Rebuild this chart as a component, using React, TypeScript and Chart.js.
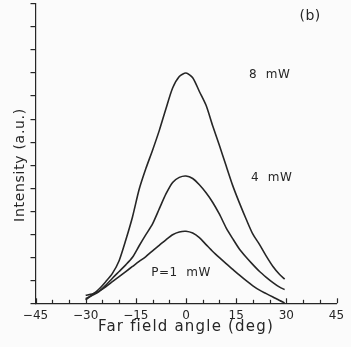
import React, { useEffect, useRef } from 'react';
import { Chart, registerables } from 'chart.js';

Chart.register(...registerables);

// Far-field angle (deg) at which each intensity was read
const angles = [-30, -28, -26, -24, -22, -20, -18, -16, -14, -12, -10, -8, -6, -4, -2, 0, 2, 4, 6, 8, 10, 12, 14, 16, 18, 20, 22, 24, 26, 28, 29.5];

// Intensity (a.u.) for each power
const p8mW = [0.15, 0.38, 0.62, 0.94, 1.3, 1.85, 2.75, 3.75, 4.95, 5.85, 6.65, 7.5, 8.45, 9.35, 9.85, 10.0, 9.8, 9.2, 8.6, 7.7, 6.85, 5.97, 5.1, 4.35, 3.65, 3.0, 2.55, 2.05, 1.6, 1.25, 1.05];
const p4mW = [0.2, 0.35, 0.51, 0.78, 1.09, 1.38, 1.67, 2.0, 2.5, 2.98, 3.45, 4.1, 4.75, 5.25, 5.47, 5.53, 5.42, 5.15, 4.8, 4.38, 3.87, 3.28, 2.8, 2.35, 2.0, 1.68, 1.38, 1.13, 0.9, 0.7, 0.6];
const p1mW = [0.35, 0.4, 0.53, 0.72, 0.94, 1.16, 1.38, 1.6, 1.82, 2.03, 2.28, 2.52, 2.76, 2.98, 3.1, 3.13, 3.05, 2.85, 2.55, 2.25, 1.98, 1.72, 1.47, 1.22, 0.98, 0.76, 0.57, 0.42, 0.27, 0.12, 0.02];

// Axis ticks
const xMin = -45;
const xMax = 45;
const xMinorStep = 5;
const xLabelStep = 15;
const yMin = 0;
const yMax = 13;
const yStep = 1;

// Text labels
const xTitle = 'Far field angle (deg)';
const yTitle = 'Intensity (a.u.)';
const notes = [
  { text: '(b)', x: 37.1, y: 12.45, size: 14 },
  { text: '8  mW', x: 25.0, y: 9.93, size: 12 },
  { text: '4  mW', x: 25.6, y: 5.45, size: 12 },
  { text: 'P=1  mW', x: -1.5, y: 1.32, size: 12 },
];

const INK = '#262626';
const FONT = '"DejaVu Sans", "Liberation Sans", sans-serif';

const toPoints = (vals: number[]) => vals.map((v, i) => ({ x: angles[i], y: v }));

const decorPlugin = {
  id: 'decor',
  afterDraw(chart: any) {
    const { ctx, scales } = chart;
    const xs = scales.x;
    const ys = scales.y;
    const area = chart.chartArea;
    ctx.save();
    // inward tick marks on x axis
    ctx.strokeStyle = INK;
    ctx.lineWidth = 1.2;
    for (let v = xMin; v <= xMax; v += xMinorStep) {
      const px = Math.round(xs.getPixelForValue(v)) + 0.5;
      const len = v % xLabelStep === 0 ? 5 : 3.5;
      ctx.beginPath();
      ctx.moveTo(px, area.bottom);
      ctx.lineTo(px, area.bottom - len);
      ctx.stroke();
    }
    ctx.fillStyle = INK;
    // x title
    (ctx as any).letterSpacing = '1.2px';
    ctx.font = `15px ${FONT}`;
    ctx.textAlign = 'center';
    ctx.textBaseline = 'alphabetic';
    ctx.fillText(xTitle, 186, 331);
    // y title
    (ctx as any).letterSpacing = '0.7px';
    ctx.save();
    ctx.translate(24, 165);
    ctx.rotate(-Math.PI / 2);
    ctx.font = `14px ${FONT}`;
    ctx.textAlign = 'center';
    ctx.textBaseline = 'alphabetic';
    ctx.fillText(yTitle, 0, 0);
    ctx.restore();
    // notes
    (ctx as any).letterSpacing = '0.5px';
    ctx.textAlign = 'center';
    ctx.textBaseline = 'middle';
    for (const n of notes) {
      ctx.font = `${n.size}px ${FONT}`;
      ctx.fillText(n.text, xs.getPixelForValue(n.x), ys.getPixelForValue(n.y));
    }
    ctx.restore();
  },
};

export default function App() {
  const ref = useRef<HTMLCanvasElement | null>(null);

  useEffect(() => {
    if (!ref.current) return;
    const mk = (label: string, vals: number[]) => ({
      label,
      data: toPoints(vals),
      borderColor: INK,
      backgroundColor: INK,
      borderWidth: 1.6,
      pointRadius: 0,
      tension: 0.25,
      fill: false,
    });
    const chart = new Chart(ref.current, {
      type: 'line',
      data: {
        datasets: [mk('8 mW', p8mW), mk('4 mW', p4mW), mk('P=1 mW', p1mW)],
      },
      options: {
        animation: false,
        responsive: false,
        maintainAspectRatio: false,
        layout: { padding: { left: 0, top: 4, right: 14.5, bottom: 0 } },
        plugins: {
          legend: { display: false },
          tooltip: { enabled: false },
          title: { display: false },
        },
        scales: {
          x: {
            type: 'linear',
            min: xMin,
            max: xMax,
            afterFit: (s: any) => {
              s.height = 43.7;
            },
            grid: { display: false, drawTicks: false },
            border: { display: true, color: INK, width: 1.2 },
            ticks: {
              stepSize: xMinorStep,
              autoSkip: false,
              maxRotation: 0,
              padding: 5,
              color: INK,
              font: { size: 12, family: FONT },
              callback: (v: any) => {
                const n = Number(v);
                if (n % xLabelStep !== 0) return '';
                return n < 0 ? '\u2212' + Math.abs(n) : String(n);
              },
            },
          },
          y: {
            type: 'linear',
            min: yMin,
            max: yMax,
            afterFit: (s: any) => {
              s.width = 35.5;
            },
            grid: {
              display: true,
              drawOnChartArea: false,
              drawTicks: true,
              tickLength: 5,
              color: INK,
              lineWidth: 1.2,
            },
            border: { display: true, color: INK, width: 1.2 },
            ticks: { stepSize: yStep, display: false },
          },
        },
      },
      plugins: [decorPlugin],
    });
    return () => chart.destroy();
  }, []);

  return (
    <div style={{ position: 'fixed', left: 0, top: 0, width: 351, height: 347, background: '#fbfbfb' }}>
      <canvas ref={ref} width={351} height={347} style={{ display: 'block', width: 351, height: 347 }} />
    </div>
  );
}
